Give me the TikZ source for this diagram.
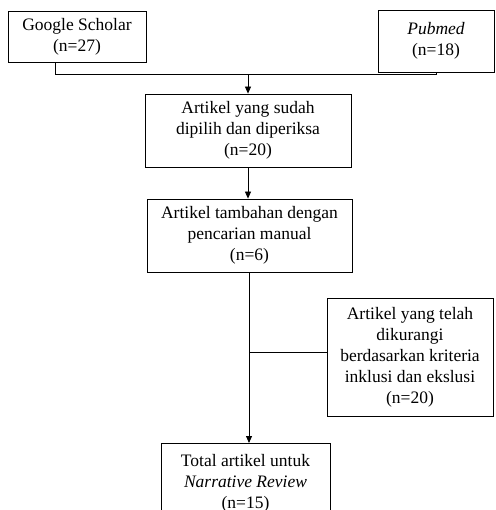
\documentclass[tikz,border=0pt]{standalone}
\usepackage{fontspec}
\setmainfont{Liberation Serif}
\usetikzlibrary{arrows.meta}
\begin{document}
\begin{tikzpicture}[x=1pt,y=-1pt,
    box/.style={draw, line width=0.8pt, align=center, inner sep=0pt,
        font=\fontsize{17.5}{21}\selectfont},
    arr/.style={-{Triangle[length=7pt,width=6pt]}}]
            \useasboundingbox (0,0) rectangle (495,510);
            % source boxes
            \node[box, minimum width=138pt, minimum height=51pt] (gs) at (77,36.5) {Google Scholar\\(n=27)};
            \node[box, minimum width=116pt, minimum height=62pt, text depth=6pt] (pm) at (436,41.5) {\textit{Pubmed}\\(n=18)};
            % main column
            \node[box, minimum width=206pt, minimum height=73pt] (sel) at (248,130.5) {Artikel yang sudah\\dipilih dan diperiksa\\(n=20)};
            \node[box, minimum width=205pt, minimum height=73pt] (man) at (249.5,235.5) {Artikel tambahan dengan\\pencarian manual\\(n=6)};
            \node[box, minimum width=166pt, minimum height=118pt] (exc) at (410,357) {Artikel yang telah\\dikurangi\\berdasarkan kriteria\\inklusi dan ekslusi\\(n=20)};
            \node[box, minimum width=169pt, minimum height=84pt, anchor=north, text depth=7pt] (tot) at (245.5,443) {Total artikel untuk\\\textit{Narrative Review}\\(n=15)};
            % connectors
            \coordinate (j) at (248,74.5);
            \draw[line width=0.8pt] ([xshift=-22pt]gs.south) |- (j) -| (pm.south);
            \draw[line width=0.8pt, arr] (j) -- (sel.north -| j);
            \draw[line width=0.8pt, arr] (sel.south -| j) -- (man.north -| j);
            \draw[line width=0.8pt, arr] (man.south -| 249,0) -- (tot.north -| 249,0);
            \draw[line width=0.8pt] ([yshift=5pt]exc.west) -- ([yshift=5pt]exc.west -| 249,0);
\end{tikzpicture}
\end{document}
